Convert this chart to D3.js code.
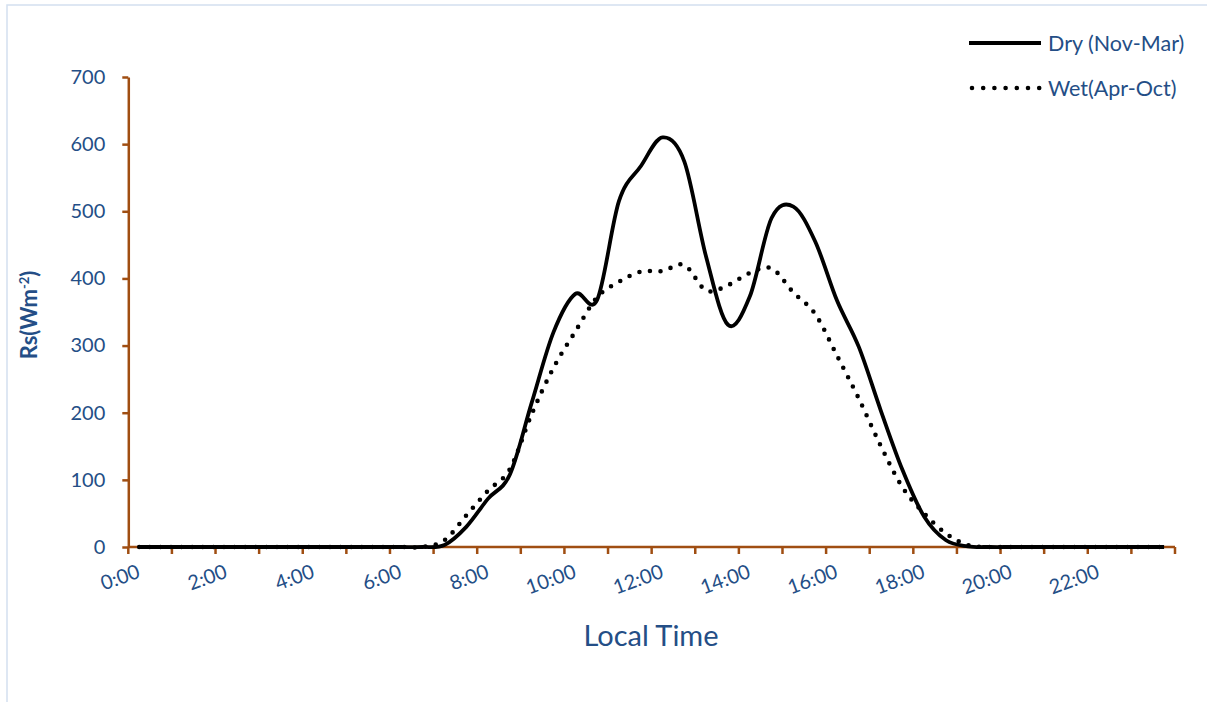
<!DOCTYPE html>
<html>
<head>
<meta charset="utf-8">
<script src="https://cdn.jsdelivr.net/npm/d3@7"></script>
<style>
  html, body { margin: 0; padding: 0; background: #ffffff; }
  svg { display: block; }
  text { font-family: Lato, "Open Sans", sans-serif; }
</style>
</head>
<body>
<div id="chart"></div>
<script>
// Half-hourly local time categories
const times = [
  "0:00","0:30","1:00","1:30","2:00","2:30","3:00","3:30",
  "4:00","4:30","5:00","5:30","6:00","6:30","7:00","7:30",
  "8:00","8:30","9:00","9:30","10:00","10:30","11:00","11:30",
  "12:00","12:30","13:00","13:30","14:00","14:30","15:00","15:30",
  "16:00","16:30","17:00","17:30","18:00","18:30","19:00","19:30",
  "20:00","20:30","21:00","21:30","22:00","22:30","23:00","23:30"
];

// Mean solar radiation Rs (W m-2), dry season (Nov-Mar)
const dryValues = [
  0, 0, 0, 0, 0, 0, 0, 0,
  0, 0, 0, 0, 0, 0, 3, 30,
  72, 108, 215, 320, 377, 368, 515, 567,
  610, 574, 432, 331, 373, 490, 507, 455,
  367, 298, 204, 115, 45, 10, 1, 0,
  0, 0, 0, 0, 0, 0, 0, 0
];

// Mean solar radiation Rs (W m-2), wet season (Apr-Oct)
const wetValues = [
  0, 0, 0, 0, 0, 0, 0, 0,
  0, 0, 0, 0, 0, 0, 10, 47,
  84, 116, 198, 267, 321, 372, 395, 410,
  411, 420, 382, 390, 408, 415, 379, 347,
  285, 221, 151, 89, 50, 20, 3, 0,
  0, 0, 0, 0, 0, 0, 0, 0
];

const yTicks = [0, 100, 200, 300, 400, 500, 600, 700];
const xLabels = ["0:00","2:00","4:00","6:00","8:00","10:00","12:00","14:00","16:00","18:00","20:00","22:00"];
const seriesNames = ["Dry (Nov-Mar)", "Wet(Apr-Oct)"];

const W = 1207, H = 702;
const axisColor = "#A04E12";
const textColor = "#244E86";

const svg = d3.select("#chart").append("svg")
  .attr("width", W).attr("height", H);

// chart area frame
svg.append("rect")
  .attr("x", 7).attr("y", 5)
  .attr("width", W + 20).attr("height", H + 20)
  .attr("fill", "#ffffff")
  .attr("stroke", "#D3E0F0").attr("stroke-width", 1.5);

const plotLeft = 128.3, plotRight = 1175, plotTop = 77, plotBottom = 547;

const x = d3.scaleBand().domain(times).range([plotLeft, plotRight]).padding(0);
const xc = d => x(d) + x.bandwidth() / 2;
const y = d3.scaleLinear().domain([0, 700]).range([plotBottom, plotTop]);

// Y axis
const yAxis = svg.append("g")
  .attr("transform", `translate(${plotLeft},0)`)
  .call(d3.axisLeft(y).tickValues(yTicks).tickSize(6).tickSizeOuter(0).tickPadding(17));
yAxis.select(".domain").attr("stroke", axisColor).attr("stroke-width", 2.5);
yAxis.selectAll(".tick line").attr("stroke", axisColor).attr("stroke-width", 2.5);
yAxis.selectAll(".tick text")
  .attr("fill", textColor)
  .style("font-size", "20px")
  .style("font-family", "Lato, sans-serif");

// X axis line and tick marks at every hour boundary
const xAxis = svg.append("g");
xAxis.append("line")
  .attr("x1", plotLeft).attr("x2", plotRight)
  .attr("y1", plotBottom).attr("y2", plotBottom)
  .attr("stroke", axisColor).attr("stroke-width", 2.5);

const tickPositions = times.filter((t, i) => i % 2 === 0).map(t => x(t)).concat([plotRight]);
xAxis.selectAll("line.xtick")
  .data(tickPositions)
  .join("line")
  .attr("class", "xtick")
  .attr("x1", d => d).attr("x2", d => d)
  .attr("y1", plotBottom).attr("y2", plotBottom + 7)
  .attr("stroke", axisColor).attr("stroke-width", 2.5);

// rotated time labels every two hours
xAxis.selectAll("text.xlab")
  .data(xLabels)
  .join("text")
  .attr("class", "xlab")
  .attr("text-anchor", "end")
  .attr("transform", d => `translate(${xc(d) + 2},${plotBottom + 30}) rotate(-20)`)
  .attr("fill", textColor)
  .style("font-size", "20px")
  .text(d => d);

// axis titles
svg.append("text")
  .attr("x", 651).attr("y", 646)
  .attr("text-anchor", "middle")
  .attr("fill", textColor)
  .style("font-size", "29px")
  .text("Local Time");

const yTitle = svg.append("text")
  .attr("transform", "translate(37,315) rotate(-90)")
  .attr("text-anchor", "middle")
  .attr("fill", textColor)
  .style("font-size", "22px")
  .style("font-weight", "bold");
yTitle.append("tspan").text("Rs(Wm");
yTitle.append("tspan").attr("dy", -8).style("font-size", "13px").text("-2");
yTitle.append("tspan").attr("dy", 8).text(")");

// series lines
const line = d3.line()
  .x((d, i) => xc(times[i]))
  .y(d => y(d))
  .curve(d3.curveCardinal.tension(0));

svg.append("path")
  .datum(dryValues)
  .attr("d", line)
  .attr("fill", "none")
  .attr("stroke", "#000000")
  .attr("stroke-width", 3.8)
  .attr("stroke-linejoin", "round");

svg.append("path")
  .datum(wetValues)
  .attr("d", line)
  .attr("fill", "none")
  .attr("stroke", "#000000")
  .attr("stroke-width", 4.6)
  .attr("stroke-linecap", "round")
  .attr("stroke-dasharray", "0 10.6");

// legend
const legend = svg.append("g");
const legendRows = [
  { name: seriesNames[0], y: 43, dash: null, width: 4.2, cap: "butt" },
  { name: seriesNames[1], y: 88, dash: "0 11.2", width: 4.6, cap: "round" }
];
legendRows.forEach(r => {
  legend.append("line")
    .attr("x1", r.dash ? 972 : 969).attr("x2", r.dash ? 1040 : 1041)
    .attr("y1", r.y).attr("y2", r.y)
    .attr("stroke", "#000000")
    .attr("stroke-width", r.width)
    .attr("stroke-linecap", r.cap)
    .attr("stroke-dasharray", r.dash);
  legend.append("text")
    .attr("x", 1048).attr("y", r.y + 7.5)
    .attr("fill", textColor)
    .style("font-size", "21.5px")
    .text(r.name);
});
</script>
</body>
</html>
